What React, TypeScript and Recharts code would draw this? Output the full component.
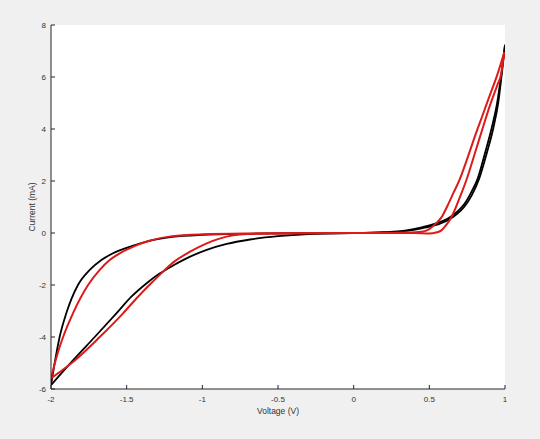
import { CartesianGrid, Label, Line, LineChart, XAxis, YAxis } from 'recharts'

type Pt = [number, number]

// voltage (V), current (mA) pairs, each branch ordered by voltage
const blackPosInner: Pt[] = [
  [0, 0], [0.2, 0.03], [0.35, 0.1], [0.45, 0.22], [0.55, 0.38], [0.62, 0.55],
  [0.68, 0.8], [0.73, 1.1], [0.78, 1.6], [0.82, 2.1], [0.868, 3.08],
  [0.912, 4.04], [0.948, 5.0], [0.975, 6.08], [1, 7.24],
]
const blackPosOuter: Pt[] = [
  [0, 0], [0.2, 0.02], [0.35, 0.08], [0.45, 0.18], [0.55, 0.32], [0.62, 0.48],
  [0.68, 0.72], [0.73, 1.0], [0.78, 1.45], [0.83, 2.1], [0.88, 3.08],
  [0.923, 4.04], [0.955, 5.0], [0.978, 6.08], [1, 7.24],
]
const blackNegUpper: Pt[] = [
  [-2, -5.85], [-1.976, -5.01], [-1.943, -4.0], [-1.899, -3.09], [-1.822, -2.0],
  [-1.744, -1.42], [-1.667, -1.04], [-1.59, -0.78], [-1.5, -0.57], [-1.42, -0.42],
  [-1.35, -0.3], [-1.2, -0.15], [-1.0, -0.07], [-0.7, -0.03], [-0.4, -0.01], [0, 0],
]
const blackNegLower: Pt[] = [
  [-2, -5.85], [-1.932, -5.4], [-1.855, -4.9], [-1.711, -4.0], [-1.568, -3.09],
  [-1.469, -2.45], [-1.37, -1.94], [-1.28, -1.55], [-1.19, -1.24], [-1.081, -0.91],
  [-0.971, -0.65], [-0.839, -0.42], [-0.685, -0.25], [-0.5, -0.12], [-0.3, -0.04], [0, 0],
]

const redPosLeft: Pt[] = [
  [0, 0], [0.2, 0.01], [0.35, 0.02], [0.45, 0.05], [0.5, 0.15], [0.54, 0.35],
  [0.58, 0.6], [0.62, 1.05], [0.66, 1.55], [0.7, 2.05], [0.75, 2.85], [0.8, 3.7],
  [0.85, 4.5], [0.9, 5.3], [0.95, 6.1], [0.995, 6.95],
]
const redPosRight: Pt[] = [
  [0, 0], [0.2, 0.0], [0.4, 0.0], [0.5, -0.02], [0.55, 0.03], [0.58, 0.1],
  [0.61, 0.3], [0.635, 0.5], [0.66, 0.78], [0.7, 1.35], [0.745, 2.04], [0.8, 3.05],
  [0.853, 4.04], [0.9, 4.9], [0.95, 5.7], [0.974, 6.1], [0.995, 6.95],
]
const redNegUpper: Pt[] = [
  [-2, -5.59], [-1.96, -4.7], [-1.92, -4.0], [-1.855, -3.09], [-1.755, -2.0],
  [-1.678, -1.42], [-1.612, -1.04], [-1.546, -0.78], [-1.48, -0.59], [-1.42, -0.44],
  [-1.35, -0.3], [-1.2, -0.12], [-1.0, -0.05], [-0.7, -0.02], [0, 0],
]
const redNegLower: Pt[] = [
  [-2, -5.59], [-1.92, -5.25], [-1.843, -4.9], [-1.678, -4.0], [-1.524, -3.09],
  [-1.425, -2.45], [-1.35, -2.0], [-1.28, -1.6], [-1.19, -1.12], [-1.081, -0.72],
  [-0.971, -0.4], [-0.839, -0.14], [-0.751, -0.06], [-0.6, -0.02], [0, 0],
]

const xTicks = [-2, -1.5, -1, -0.5, 0, 0.5, 1]
const yTicks = [-6, -4, -2, 0, 2, 4, 6, 8]

const blackSeries = [blackPosInner, blackPosOuter, blackNegUpper, blackNegLower]
const redSeries = [redPosLeft, redPosRight, redNegUpper, redNegLower]

const toRows = (pts: Pt[]) => pts.map(([x, y]) => ({ x, y }))

const axisColor = '#262626'
const font = 'Liberation Sans, Arial, sans-serif'
const tickStyle = { fontSize: 8, fill: '#333', fontFamily: font }
const titleStyle = { fontSize: 8.5, fill: '#333', fontFamily: font }

export default function App() {
  return (
    <div style={{ width: 540, height: 439, background: '#f0f0f0' }}>
      <style>{'body{margin:0}'}</style>
      <LineChart width={540} height={439} margin={{ top: 25, right: 35, bottom: 6, left: 13 }}>
        <CartesianGrid fill="#ffffff" stroke="none" />
        <XAxis
          dataKey="x"
          type="number"
          domain={[-2, 1]}
          ticks={xTicks}
          allowDataOverflow
          height={44}
          stroke={axisColor}
          tickSize={-4}
          tickMargin={11}
          tick={tickStyle}
        >
          <Label value="Voltage (V)" position="center" style={titleStyle} />
        </XAxis>
        <XAxis
          xAxisId="top"
          orientation="top"
          dataKey="x"
          type="number"
          domain={[-2, 1]}
          ticks={xTicks}
          allowDataOverflow
          height={0}
          stroke={axisColor}
          tickSize={-4}
          tick={false}
        />
        <YAxis
          type="number"
          domain={[-6, 8]}
          ticks={yTicks}
          allowDataOverflow
          width={38}
          stroke={axisColor}
          tickSize={-4}
          tickMargin={9}
          tick={tickStyle}
        >
          <Label value="Current (mA)" position="center" angle={-90} style={titleStyle} />
        </YAxis>
        <YAxis
          yAxisId="right"
          orientation="right"
          type="number"
          domain={[-6, 8]}
          ticks={yTicks}
          allowDataOverflow
          width={0}
          stroke={axisColor}
          tickSize={-4}
          tick={false}
        />
        {blackSeries.map((pts, i) => (
          <Line
            key={`k${i}`}
            data={toRows(pts)}
            dataKey="y"
            type="monotone"
            stroke="#000000"
            strokeWidth={1.8}
            dot={false}
            isAnimationActive={false}
          />
        ))}
        {redSeries.map((pts, i) => (
          <Line
            key={`r${i}`}
            data={toRows(pts)}
            dataKey="y"
            type="monotone"
            stroke="#dd1a1a"
            strokeWidth={2}
            dot={false}
            isAnimationActive={false}
          />
        ))}
      </LineChart>
    </div>
  )
}
